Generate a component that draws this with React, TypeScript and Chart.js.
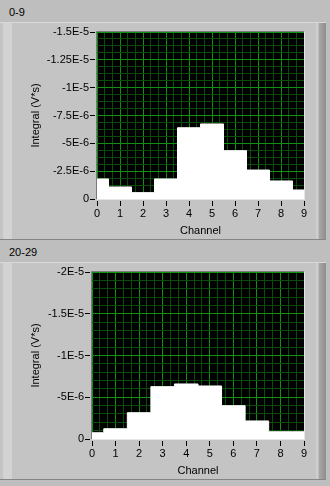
import React, { useEffect, useRef } from 'react';
import { Chart, registerables } from 'chart.js';

Chart.register(...registerables);

// ---- data ----
const channels = [0, 1, 2, 3, 4, 5, 6, 7, 8, 9];
const xTickLabels = ['0', '1', '2', '3', '4', '5', '6', '7', '8', '9'];

const integral0to9 = [-1.8e-6, -1.08e-6, -0.57e-6, -1.8e-6, -6.4e-6, -6.74e-6, -4.34e-6, -2.6e-6, -1.62e-6, -0.81e-6];
const yTicks0to9 = [-1.5e-5, -1.25e-5, -1e-5, -7.5e-6, -5e-6, -2.5e-6, 0];
const yLabels0to9 = ['-1.5E-5', '-1.25E-5', '-1E-5', '-7.5E-6', '-5E-6', '-2.5E-6', '0'];

const integral20to29 = [-0.75e-6, -1.23e-6, -3.15e-6, -6.27e-6, -6.59e-6, -6.35e-6, -3.99e-6, -2.16e-6, -0.87e-6, -0.87e-6];
const yTicks20to29 = [-2e-5, -1.5e-5, -1e-5, -5e-6, 0];
const yLabels20to29 = ['-2E-5', '-1.5E-5', '-1E-5', '-5E-6', '0'];

// ---- styles ----
const FONT = "'Liberation Sans', Arial, sans-serif";
const HEADER_BG = '#bebebe';
const PANEL_BG = '#c4c4c4';
const GRID_MAJOR = '#129012';
const GRID_MINOR = '#0b4c0b';

type TickObj = { value: number; lbl?: string };

function subdivide(major: number[], labels: string[], n: number): TickObj[] {
  const out: TickObj[] = [];
  for (let i = 0; i < major.length; i++) {
    out.push({ value: major[i], lbl: labels[i] });
    if (i < major.length - 1) {
      for (let k = 1; k < n; k++) {
        out.push({ value: major[i] + ((major[i + 1] - major[i]) * k) / n });
      }
    }
  }
  return out;
}

const plotFrame = {
  id: 'plotFrame',
  beforeDraw(chart: any) {
    const { ctx, chartArea } = chart;
    const { left, top, right, bottom } = chartArea;
    ctx.save();
    ctx.fillStyle = '#000';
    ctx.fillRect(left, top, right - left, bottom - top);
    ctx.restore();
  },
  afterDraw(chart: any) {
    const { ctx, chartArea } = chart;
    const { left, top, right, bottom } = chartArea;
    ctx.save();
    ctx.lineWidth = 1;
    ctx.strokeStyle = '#7a7a7a';
    ctx.beginPath();
    ctx.moveTo(Math.round(left) - 0.5, Math.round(bottom));
    ctx.lineTo(Math.round(left) - 0.5, Math.round(top) - 0.5);
    ctx.lineTo(Math.round(right), Math.round(top) - 0.5);
    ctx.stroke();
    ctx.strokeStyle = '#e6e6e6';
    ctx.beginPath();
    ctx.moveTo(Math.round(right) + 0.5, Math.round(top));
    ctx.lineTo(Math.round(right) + 0.5, Math.round(bottom) + 0.5);
    ctx.lineTo(Math.round(left), Math.round(bottom) + 0.5);
    ctx.stroke();
    ctx.restore();
  },
};

type ChartProps = {
  values: number[];
  yMajor: number[];
  yLabels: string[];
  ySub: number;
  yAxisWidth: number;
};

function IntegralChart({ values, yMajor, yLabels, ySub, yAxisWidth }: ChartProps) {
  const ref = useRef<HTMLCanvasElement>(null);
  useEffect(() => {
    const font = { family: FONT, size: 11, lineHeight: 1.2 };
    const isMajor = (c: any) => c.tick && c.tick.lbl !== undefined;
    const chart = new Chart(ref.current as HTMLCanvasElement, {
      type: 'line',
      data: {
        datasets: [
          {
            data: channels.map((c, i) => ({ x: c, y: values[i] })),
            stepped: 'middle',
            fill: 'origin',
            backgroundColor: '#ffffff',
            borderColor: '#ffffff',
            borderWidth: 1,
            pointRadius: 0,
          } as any,
        ],
      },
      options: {
        responsive: false,
        animation: false,
        devicePixelRatio: 1,
        layout: { padding: { top: 9, right: 12, left: 0, bottom: 0 } },
        plugins: { legend: { display: false }, tooltip: { enabled: false } },
        scales: {
          x: {
            type: 'linear',
            min: 0,
            max: 9,
            afterBuildTicks: (s: any) => {
              s.ticks = subdivide(channels, xTickLabels, 3);
            },
            afterFit: (s: any) => {
              s.height = 40;
            },
            ticks: {
              autoSkip: false,
              maxRotation: 0,
              padding: 1,
              color: '#000',
              font,
              callback: function (_v: any, i: number, ticks: any[]) {
                return ticks[i].lbl ?? '';
              },
            },
            grid: {
              color: (c: any) => (isMajor(c) ? GRID_MAJOR : GRID_MINOR),
              tickColor: (c: any) => (isMajor(c) ? '#000' : 'rgba(0,0,0,0)'),
              tickLength: 7,
              tickBorderDash: [0, 2, 5, 0],
              lineWidth: 1,
            },
            border: { display: false },
            title: {
              display: true,
              text: 'Channel',
              color: '#000',
              font,
              padding: { top: 0, bottom: 1 },
            },
          } as any,
          y: {
            type: 'linear',
            reverse: true,
            min: yMajor[0],
            max: yMajor[yMajor.length - 1],
            afterBuildTicks: (s: any) => {
              s.ticks = subdivide(yMajor, yLabels, ySub);
            },
            afterFit: (s: any) => {
              s.width = yAxisWidth;
            },
            ticks: {
              autoSkip: false,
              padding: 1,
              color: '#000',
              font,
              callback: function (_v: any, i: number, ticks: any[]) {
                return ticks[i].lbl ?? '';
              },
            },
            grid: {
              color: (c: any) => (isMajor(c) ? GRID_MAJOR : GRID_MINOR),
              tickColor: (c: any) => (isMajor(c) ? '#000' : 'rgba(0,0,0,0)'),
              tickLength: 7,
              tickBorderDash: [5, 2],
              lineWidth: 1,
            },
            border: { display: false },
            title: {
              display: true,
              text: 'Integral (V*s)',
              color: '#000',
              font,
              padding: { top: 16, bottom: 0 },
            },
          } as any,
        },
      },
      plugins: [plotFrame],
    });
    return () => chart.destroy();
  }, []);
  return (
    <canvas
      ref={ref}
      width={303}
      height={216}
      style={{ position: 'absolute', left: 13, top: 1, width: 303, height: 216 }}
    />
  );
}

function Panel({ top, children }: { top: number; children: React.ReactNode }) {
  return (
    <div style={{ position: 'absolute', left: 0, top, width: 330, height: 218, background: PANEL_BG }}>
      <div style={{ position: 'absolute', left: 0, top: 0, width: 326, height: 1, background: '#d9d9d9' }} />
      <div style={{ position: 'absolute', left: 3, top: 1, width: 9, height: 216, background: '#d3d3d3' }} />
      <div
        style={{
          position: 'absolute',
          left: 316,
          top: 1,
          width: 10,
          height: 216,
          background: 'linear-gradient(to right, #cfcfcf 0px, #cfcfcf 2px, #a9a9a9 3px, #8c8c8c 10px)',
        }}
      />
      <div style={{ position: 'absolute', left: 326, top: 0, width: 4, height: 218, background: HEADER_BG }} />
      <div style={{ position: 'absolute', left: 0, top: 217, width: 326, height: 1, background: '#858585' }} />
      {children}
    </div>
  );
}

export default function App() {
  const label: React.CSSProperties = {
    position: 'absolute',
    left: 9,
    fontSize: 11,
    lineHeight: '13px',
    color: '#000',
    fontFamily: FONT,
  };
  return (
    <div
      style={{
        position: 'fixed',
        left: 0,
        top: 0,
        width: 330,
        height: 486,
        background: HEADER_BG,
        overflow: 'hidden',
        fontFamily: FONT,
      }}
    >
      <div style={{ ...label, top: 6 }}>0-9</div>
      <Panel top={22}>
        <IntegralChart values={integral0to9} yMajor={yTicks0to9} yLabels={yLabels0to9} ySub={4} yAxisWidth={84} />
      </Panel>
      <div style={{ ...label, top: 246 }}>20-29</div>
      <Panel top={262}>
        <IntegralChart values={integral20to29} yMajor={yTicks20to29} yLabels={yLabels20to29} ySub={5} yAxisWidth={79} />
      </Panel>
    </div>
  );
}
